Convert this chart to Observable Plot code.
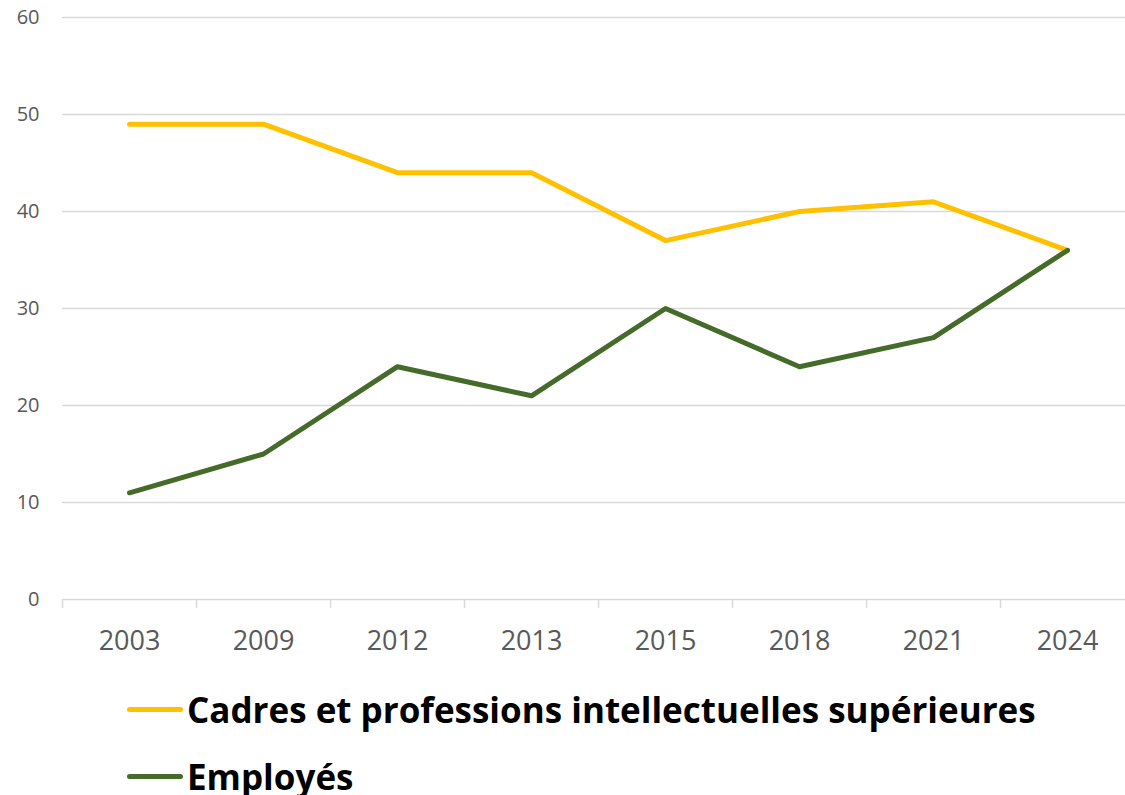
<!DOCTYPE html>
<html><head><meta charset="utf-8">
<script src="https://cdn.jsdelivr.net/npm/d3@7"></script>
<script src="https://cdn.jsdelivr.net/npm/@observablehq/plot@0.6"></script>
<style>
body{margin:0;background:#fff;font-family:"Open Sans",sans-serif;overflow:hidden}
#legend{padding-top:6px}
.item{display:flex;align-items:center;height:67px;font-weight:bold;font-size:35px;color:#000;padding-left:127px;white-space:nowrap}
.sw{width:56px;height:5px;border-radius:3px;margin-right:4px}
</style></head><body><div id="chart"></div><div id="legend"></div>
<script>
const years = ["2003","2009","2012","2013","2015","2018","2021","2024"];
const cadres = [49,49,44,44,37,40,41,36];
const employes = [11,15,24,21,30,24,27,36];
const seriesNames = ["Cadres et professions intellectuelles supérieures","Employés"];
const seriesColors = ["#FFC000","#456B2A"];
const yTicks = [0,10,20,30,40,50,60];

const data = [];
[cadres, employes].forEach((vals, s) => vals.forEach((v, i) => data.push({i, year: years[i], value: v, series: seriesNames[s]})));
const boundaries = years.map((_, i) => i - 0.5);

const chart = Plot.plot({
  width: 1125,
  height: 670,
  marginLeft: 62,
  marginRight: 0,
  marginTop: 17,
  marginBottom: 71,
  style: {fontFamily: "Open Sans, sans-serif", background: "#fff"},
  x: {type: "linear", domain: [-0.5, years.length - 0.5], range: [62, 1134]},
  y: {type: "linear", domain: [0, 60]},
  color: {domain: seriesNames, range: seriesColors},
  marks: [
    Plot.ruleY(yTicks, {y: d => d, stroke: "#d9d9d9", strokeWidth: 1.5}),
    Plot.ruleX(boundaries, {x: d => d, y1: 0, y2: 0, insetBottom: -9, stroke: "#d9d9d9", strokeWidth: 1.5}),
    Plot.axisY(yTicks, {tickSize: 0, tickPadding: 23, fontSize: 20, fill: "#595959", label: null}),
    Plot.axisX(years.map((_, i) => i), {tickSize: 0, tickPadding: 31, fontSize: 27, fill: "#595959", tickFormat: i => years[i], label: null}),
    Plot.line(data, {x: "i", y: "value", z: "series", stroke: "series", strokeWidth: 5, strokeLinejoin: "round", strokeLinecap: "round"})
  ]
});
document.getElementById("chart").appendChild(chart);

const legend = document.getElementById("legend");
seriesNames.forEach((name, k) => {
  const item = document.createElement("div");
  item.className = "item";
  const sw = document.createElement("div");
  sw.className = "sw";
  sw.style.background = seriesColors[k];
  item.appendChild(sw);
  const t = document.createElement("span");
  t.textContent = name;
  item.appendChild(t);
  legend.appendChild(item);
});
</script></body></html>
